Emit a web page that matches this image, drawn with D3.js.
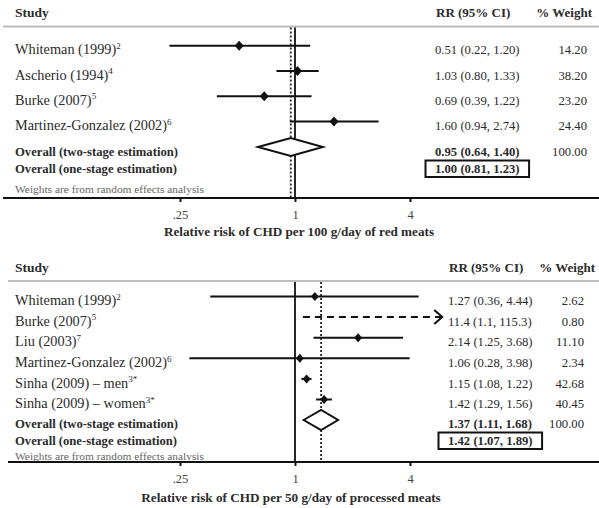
<!DOCTYPE html>
<html><head><meta charset="utf-8">
<script src="https://cdn.jsdelivr.net/npm/d3@7"></script>
<style>body{margin:0;background:#fff}svg{display:block;font-family:"Liberation Serif","Times New Roman",serif}</style>
</head><body>
<script>
// ---- data: panel 1 (red meats) ----
const redStudies = ["Whiteman (1999)", "Ascherio (1994)", "Burke (2007)", "Martinez-Gonzalez (2002)"];
const redRefs = ["2", "4", "5", "6"];
const redRR = [0.51, 1.03, 0.69, 1.60];
const redLo = [0.22, 0.80, 0.39, 0.94];
const redHi = [1.20, 1.33, 1.22, 2.74];
const redCI = ["0.51 (0.22, 1.20)", "1.03 (0.80, 1.33)", "0.69 (0.39, 1.22)", "1.60 (0.94, 2.74)"];
const redWeight = ["14.20", "38.20", "23.20", "24.40"];
const redTwoStage = [0.95, 0.64, 1.40];
const redTwoStageCI = "0.95 (0.64, 1.40)";
const redOneStageCI = "1.00 (0.81, 1.23)";
const redTitle = "Relative risk of CHD per 100 g/day of red meats";

// ---- data: panel 2 (processed meats) ----
const procStudies = ["Whiteman (1999)", "Burke (2007)", "Liu (2003)", "Martinez-Gonzalez (2002)", "Sinha (2009) \u2013 men", "Sinha (2009) \u2013 women"];
const procRefs = ["2", "5", "7", "6", "3*", "3*"];
const procRR = [1.27, 11.4, 2.14, 1.06, 1.15, 1.42];
const procLo = [0.36, 1.1, 1.25, 0.28, 1.08, 1.29];
const procHi = [4.44, 115.3, 3.68, 3.98, 1.22, 1.56];
const procCI = ["1.27 (0.36, 4.44)", "11.4 (1.1, 115.3)", "2.14 (1.25, 3.68)", "1.06 (0.28, 3.98)", "1.15 (1.08, 1.22)", "1.42 (1.29, 1.56)"];
const procWeight = ["2.62", "0.80", "11.10", "2.34", "42.68", "40.45"];
const procTwoStage = [1.37, 1.11, 1.68];
const procTwoStageCI = "1.37 (1.11, 1.68)";
const procOneStageCI = "1.42 (1.07, 1.89)";
const procTitle = "Relative risk of CHD per 50 g/day of processed meats";

const tickValues = [0.25, 1, 4];
const tickLabels = [".25", "1", "4"];
const axisMax = 5.9;   // upper end of the plotted range
const twoStageLabel = "Overall (two-stage estimation)";
const oneStageLabel = "Overall (one-stage estimation)";
const noteLabel = "Weights are from random effects analysis";

const W = 599, H = 508;
const svg = d3.select("body").append("svg").attr("width", W).attr("height", H);
const x = d3.scaleLog().base(2).domain([0.25, 4]).range([180, 410]);
const TXT = "#2b2b2b";

function panel(o) {
  const g = svg.append("g");
  // header
  g.append("text").attr("x", 15).attr("y", o.headY).attr("font-size", 13.5).attr("font-weight", "bold").attr("fill", TXT).text("Study");
  g.append("text").attr("x", o.ciX + 1).attr("y", o.headY).attr("font-size", 13).attr("font-weight", "bold").attr("fill", TXT).text("RR (95% CI)");
  g.append("text").attr("x", o.wHeadX).attr("y", o.headY).attr("text-anchor", "end").attr("font-size", 13).attr("font-weight", "bold").attr("fill", TXT).text("% Weight");
  g.append("line").attr("x1", o.lineX0).attr("x2", W).attr("y1", o.headLineY).attr("y2", o.headLineY).attr("stroke", "#bdbdbd").attr("stroke-width", 2);

  // reference lines
  g.append("line").attr("x1", x(1)).attr("x2", x(1)).attr("y1", o.headLineY + 1).attr("y2", o.axisY).attr("stroke", "#111").attr("stroke-width", 1.8);
  g.append("line").attr("x1", x(o.two[0])).attr("x2", x(o.two[0])).attr("y1", o.headLineY + 1).attr("y2", o.axisY)
    .attr("stroke", "#222").attr("stroke-width", 1.8).attr("stroke-dasharray", "2,2");

  const xMax = x(axisMax);
  o.studies.forEach((s, i) => {
    const y = o.row0 + i * o.step;
    const t = g.append("text").attr("x", 15).attr("y", y + o.tOff).attr("font-size", 14.3).attr("fill", TXT).text(s);
    t.append("tspan").attr("font-size", 9).attr("dy", -5.5).text(o.refs[i]);
    g.append("text").attr("x", o.ciX).attr("y", y + o.tOff).attr("font-size", 12.7).attr("fill", TXT).text(o.ci[i]);
    g.append("text").attr("x", o.wX).attr("y", y + o.tOff).attr("text-anchor", "end").attr("font-size", 12.7).attr("fill", TXT).text(o.weight[i]);
    const clipped = o.hi[i] > axisMax;
    const x2 = clipped ? xMax : x(o.hi[i]);
    if (clipped) {
      g.append("line").attr("x1", x(o.lo[i])).attr("x2", x2 - 1).attr("y1", y).attr("y2", y)
        .attr("stroke", "#111").attr("stroke-width", 2).attr("stroke-dasharray", "7,5");
      g.append("path").attr("d", `M${x2 - 8},${y - 7}L${x2},${y}L${x2 - 8},${y + 7}`).attr("fill", "none").attr("stroke", "#111").attr("stroke-width", 2);
    } else {
      g.append("line").attr("x1", x(o.lo[i])).attr("x2", x2).attr("y1", y).attr("y2", y).attr("stroke", "#111").attr("stroke-width", 2);
    }
    if (o.rr[i] <= axisMax) {
      const cx = x(o.rr[i]), m = o.mk;
      g.append("path").attr("d", `M${cx - m},${y}L${cx},${y - m - 0.5}L${cx + m},${y}L${cx},${y + m + 0.5}Z`).attr("fill", "#111");
    }
  });

  // overall
  const dy = o.diaY, h = o.diaH;
  g.append("path").attr("d", `M${x(o.two[1])},${dy}L${x(o.two[0])},${dy - h}L${x(o.two[2])},${dy}L${x(o.two[0])},${dy + h}Z`)
    .attr("fill", "#fff").attr("stroke", "#111").attr("stroke-width", 2);
  g.append("text").attr("x", 15).attr("y", o.twoY).attr("font-size", 13.5).attr("font-weight", "bold").attr("fill", TXT)
    .attr("textLength", 163).attr("lengthAdjust", "spacingAndGlyphs").text(twoStageLabel);
  g.append("text").attr("x", o.ciX).attr("y", o.twoY).attr("font-size", 12.7).attr("font-weight", "bold").attr("fill", TXT).text(o.twoCI);
  g.append("text").attr("x", o.wX).attr("y", o.twoY).attr("text-anchor", "end").attr("font-size", 12.7).attr("fill", TXT).text("100.00");
  g.append("text").attr("x", 15).attr("y", o.oneY).attr("font-size", 13.5).attr("font-weight", "bold").attr("fill", TXT)
    .attr("textLength", 162).attr("lengthAdjust", "spacingAndGlyphs").text(oneStageLabel);
  const ot = g.append("text").attr("x", o.ciX).attr("y", o.oneY).attr("font-size", 12.7).attr("font-weight", "bold").attr("fill", TXT).text(o.oneCI);
  const bb = ot.node().getBBox();
  g.append("rect").attr("x", bb.x - 9.5).attr("y", o.oneY - 12).attr("width", bb.width + 19).attr("height", 16.5)
    .attr("fill", "none").attr("stroke", "#111").attr("stroke-width", 2);
  g.append("text").attr("x", 15).attr("y", o.noteY).attr("font-size", 11.4).attr("fill", "#666").text(noteLabel);

  // axis
  const axis = d3.axisBottom(x).tickValues(tickValues).tickFormat((d, i) => tickLabels[i]).tickSize(4).tickSizeOuter(0);
  const ag = g.append("g").attr("transform", `translate(0,${o.axisY})`).call(axis);
  ag.select(".domain").remove();
  ag.append("line").attr("x1", o.lineX0).attr("x2", W).attr("stroke", "#111").attr("stroke-width", 2);
  ag.selectAll(".tick line").attr("stroke", "#111").attr("stroke-width", 2).attr("y1", -1);
  ag.selectAll(".tick text").attr("font-family", "Liberation Serif, serif").attr("font-size", 12.5).attr("fill", "#444").attr("dy", "1.1em");
  g.append("text").attr("x", o.titleX).attr("y", o.titleY).attr("text-anchor", "middle").attr("font-size", 13.2).attr("font-weight", "bold").attr("fill", TXT).text(o.title);
}

panel({
  studies: redStudies, refs: redRefs, rr: redRR, lo: redLo, hi: redHi, ci: redCI, weight: redWeight,
  two: redTwoStage, twoCI: redTwoStageCI, oneCI: redOneStageCI, title: redTitle,
  headY: 17, headLineY: 26.5, lineX0: 3, ciX: 435, wX: 587, wHeadX: 592,
  row0: 45.7, step: 25.3, tOff: 8.5, mk: 4.5,
  diaY: 147, diaH: 9, twoY: 155.5, oneY: 172.5, noteY: 192.5,
  axisY: 198, titleX: 299, titleY: 236
});
panel({
  studies: procStudies, refs: procRefs, rr: procRR, lo: procLo, hi: procHi, ci: procCI, weight: procWeight,
  two: procTwoStage, twoCI: procTwoStageCI, oneCI: procOneStageCI, title: procTitle,
  headY: 271.5, headLineY: 281, lineX0: 8, ciX: 448, wX: 584, wHeadX: 595,
  row0: 296.5, step: 20.6, tOff: 8.7, mk: 4,
  diaY: 420, diaH: 10, twoY: 427.5, oneY: 444.5, noteY: 459.5,
  axisY: 462, titleX: 291, titleY: 502
});
</script>
</body></html>
